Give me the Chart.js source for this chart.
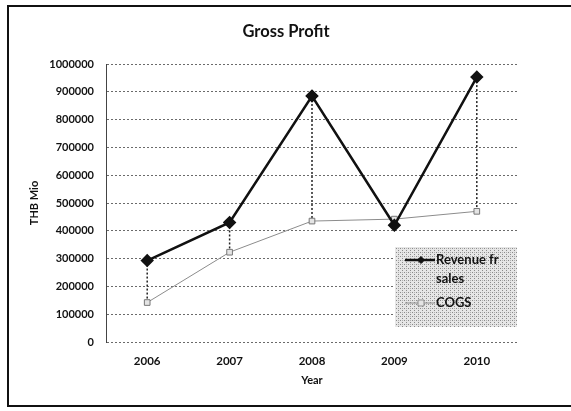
<!DOCTYPE html>
<html>
<head>
<meta charset="utf-8">
<script src="https://cdn.jsdelivr.net/npm/chart.js@4"></script>
<style>
  html, body { margin: 0; padding: 0; background: #fff; }
  #wrap { position: relative; width: 571px; height: 411px; overflow: hidden; }
  #frame { position: absolute; left: 7px; top: 5px; width: 600px; height: 398px;
           border-left: 2px solid #111; border-top: 2px solid #111; border-bottom: 2px solid #111; }
  canvas { position: absolute; left: 0; top: 0; }
</style>
</head>
<body>
<div id="wrap">
  <div id="frame"></div>
  <canvas id="myChart" width="571" height="411"></canvas>
</div>
<script>
const years = ['2006', '2007', '2008', '2009', '2010'];
const revenue = [293000, 430000, 885000, 420000, 953000];
const cogs = [142000, 323000, 435000, 442000, 470000];
const seriesNames = ['Revenue fr sales', 'COGS'];
const yTicks = [0, 100000, 200000, 300000, 400000, 500000, 600000, 700000, 800000, 900000, 1000000];
const chartTitle = 'Gross Profit';

const fontName = 'Lato, "Open Sans", sans-serif';

// title centred on the whole frame
const frameTitle = {
  id: 'frameTitle',
  afterDraw(chart) {
    const c = chart.ctx;
    c.save();
    c.font = 'bold 16.5px ' + fontName;
    c.fillStyle = '#111';
    c.textAlign = 'center';
    c.textBaseline = 'middle';
    c.fillText(chartTitle, 286, 32);
    c.restore();
  }
};

// dotted drop lines from revenue down to cogs
const dropLines = {
  id: 'dropLines',
  beforeDatasetsDraw(chart) {
    const a = chart.getDatasetMeta(0).data;
    const b = chart.getDatasetMeta(1).data;
    const c = chart.ctx;
    c.save();
    c.strokeStyle = '#222';
    c.lineWidth = 1.5;
    c.setLineDash([2, 2]);
    for (let i = 0; i < a.length; i++) {
      c.beginPath();
      c.moveTo(a[i].x, a[i].y);
      c.lineTo(b[i].x, b[i].y);
      c.stroke();
    }
    c.restore();
  }
};

// stipple pattern for the legend box
function stipple(ctx) {
  const p = document.createElement('canvas');
  p.width = 4; p.height = 4;
  const g = p.getContext('2d');
  g.fillStyle = '#e6e6e6';
  g.fillRect(0, 0, 4, 4);
  g.fillStyle = '#8a8a8a';
  g.fillRect(0, 0, 1, 1);
  g.fillRect(2, 2, 1, 1);
  g.fillStyle = '#b0b0b0';
  g.fillRect(2, 0, 1, 1);
  return ctx.createPattern(p, 'repeat');
}

const boxLegend = {
  id: 'boxLegend',
  afterDraw(chart) {
    const c = chart.ctx;
    const x = 395, y = 247, w = 122, h = 80;
    c.save();
    c.fillStyle = stipple(c);
    c.fillRect(x, y, w, h);
    c.font = 'bold 13px ' + fontName;
    c.textBaseline = 'middle';
    c.fillStyle = '#111';
    let ty = y + 13;
    chart.data.datasets.forEach((ds, i) => {
      // wrap label
      const words = ds.label.split(' ');
      const lines = [];
      let cur = '';
      words.forEach(wd => {
        const t = cur ? cur + ' ' + wd : wd;
        if (c.measureText(t).width > 72 && cur) { lines.push(cur); cur = wd; } else cur = t;
      });
      lines.push(cur);
      // sample line
      c.strokeStyle = ds.borderColor;
      c.lineWidth = ds.borderWidth;
      c.beginPath();
      c.moveTo(x + 10, ty);
      c.lineTo(x + 40, ty);
      c.stroke();
      const mx = x + 26;
      c.fillStyle = ds.pointBackgroundColor;
      c.strokeStyle = ds.borderColor;
      c.lineWidth = 1;
      c.beginPath();
      if (ds.pointStyle === 'rectRot') {
        c.moveTo(mx, ty - 3.5); c.lineTo(mx + 3.5, ty); c.lineTo(mx, ty + 3.5); c.lineTo(mx - 3.5, ty);
        c.closePath();
      } else {
        c.rect(mx - 3, ty - 3, 6, 6);
      }
      c.fill(); c.stroke();
      c.fillStyle = '#111';
      lines.forEach((ln, k) => {
        c.fillText(ln, x + 41, ty + k * 19);
      });
      ty += lines.length * 19 + 5;
    });
    c.restore();
  }
};

const ctx = document.getElementById('myChart');
new Chart(ctx, {
  type: 'line',
  data: {
    labels: years,
    datasets: [{
      label: seriesNames[0],
      data: revenue,
      borderColor: '#111',
      borderWidth: 2.5,
      pointStyle: 'rectRot',
      pointRadius: 5,
      pointBackgroundColor: '#111',
      pointBorderColor: '#111',
      tension: 0
    }, {
      label: seriesNames[1],
      data: cogs,
      borderColor: '#8c8c8c',
      borderWidth: 1,
      pointStyle: 'rect',
      pointRadius: 4,
      pointBackgroundColor: '#e4e4e4',
      pointBorderColor: '#777',
      tension: 0
    }]
  },
  options: {
    responsive: false,
    animation: false,
    layout: { padding: { left: 20, right: 53, top: 64, bottom: 0 } },
    plugins: {
      legend: { display: false },
      tooltip: { enabled: false },
      title: { display: false }
    },
    scales: {
      x: {
        offset: true,
        grid: { display: false, drawTicks: false, offset: true },
        border: { display: false },
        ticks: { color: '#111', padding: 12, font: { family: fontName, size: 11.5, weight: 'bold' } },
        title: { display: true, text: 'Year', color: '#111',
                 font: { family: fontName, size: 11, weight: 'bold' }, padding: { top: 0, bottom: 24 } },
        afterFit: s => { s.height = 69; }
      },
      y: {
        min: 0,
        max: 1000000,
        afterBuildTicks: s => { s.ticks = yTicks.map(v => ({ value: v })); },
        grid: { color: '#6a6a6a', drawTicks: false, lineWidth: 1 },
        border: { display: true, color: '#444', dash: [2, 2] },
        ticks: { color: '#111', padding: 12, callback: v => String(v),
                 font: { family: fontName, size: 11, weight: 'bold' } },
        title: { display: true, text: 'THB Mio', color: '#111',
                 font: { family: fontName, size: 11, weight: 'bold' }, padding: { top: 8, bottom: 0 } },
        afterFit: s => { s.width = 86; }
      }
    }
  },
  plugins: [dropLines, boxLegend, frameTitle]
});
</script>
</body>
</html>
